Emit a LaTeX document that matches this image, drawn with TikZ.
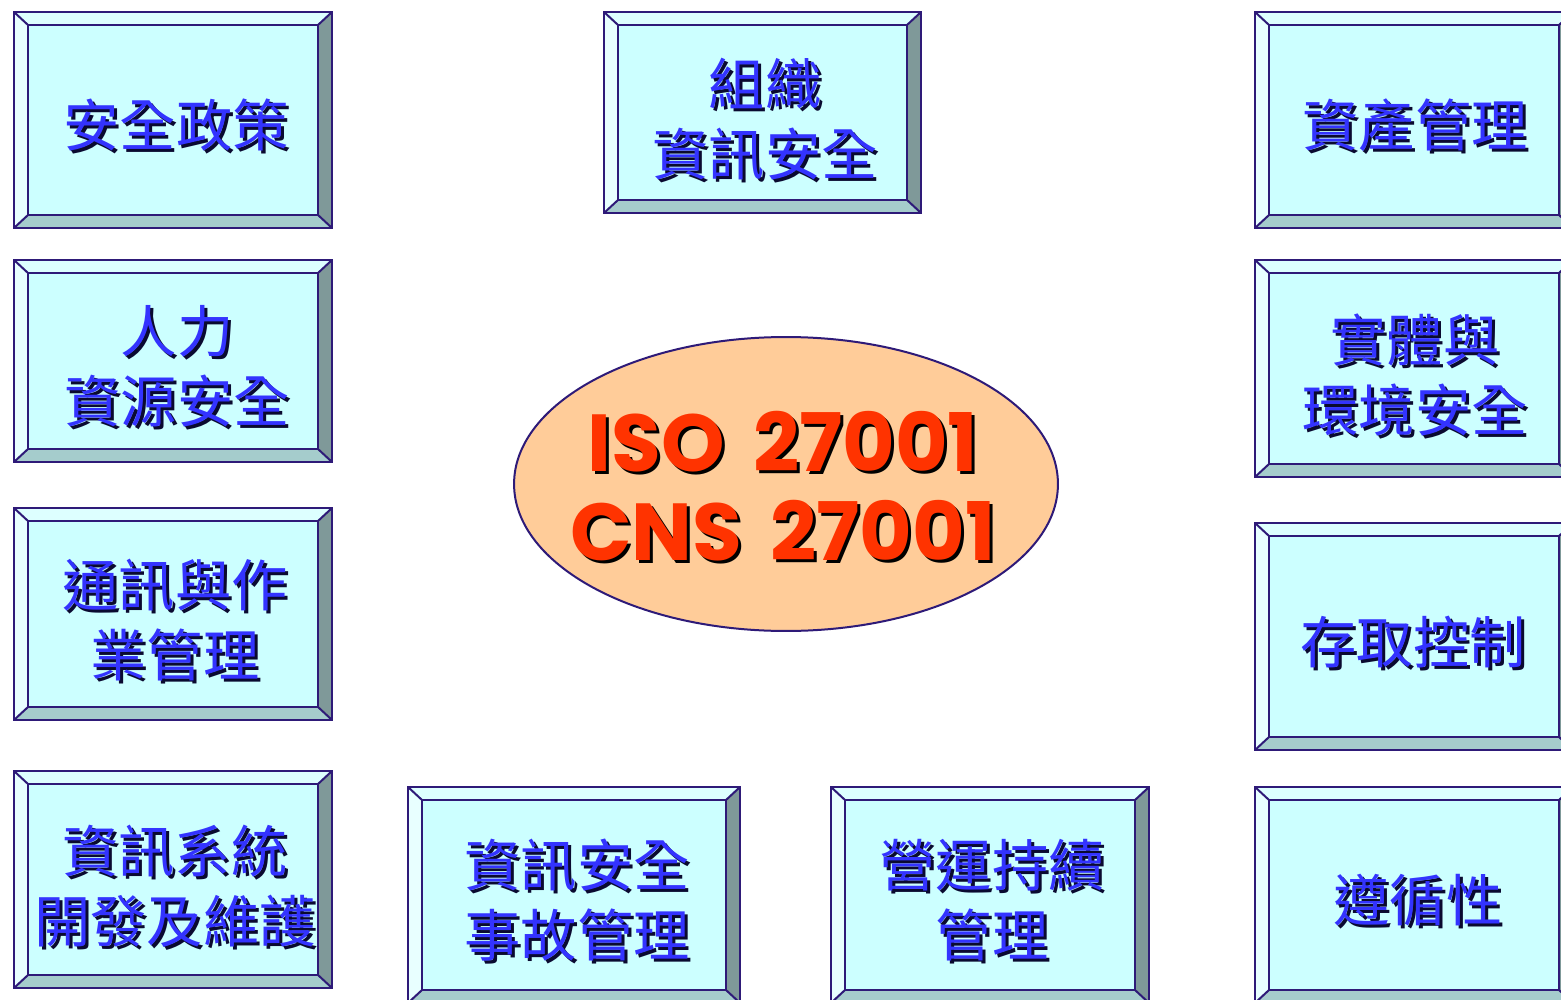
\documentclass[tikz,border=0pt]{standalone}
\usepackage{fontspec}
\newfontfamily\cjk{Noto Sans CJK TC}
\newfontfamily\isofont{Poppins}
\usetikzlibrary{shapes.geometric}
\definecolor{facec}{HTML}{CCFFFF}
\definecolor{topc}{HTML}{DDFFFF}
\definecolor{leftc}{HTML}{E8FFFF}
\definecolor{rightc}{HTML}{7F9999}
\definecolor{botc}{HTML}{A5CCCC}
\definecolor{edgec}{HTML}{2E1A78}
\definecolor{txtc}{HTML}{3333FF}
\definecolor{shadc}{HTML}{0A0A30}
\definecolor{isofill}{HTML}{FFCC99}
\definecolor{isored}{HTML}{FF3300}
\tikzset{
  bev/.style={draw=edgec, line width=0.04cm, line join=miter},
  lbl/.style={font=\cjk\fontsize{32}{40}\selectfont, text=txtc, align=center, inner sep=0pt},
  lblshadow/.style={lbl, text=shadc, xshift=0.06cm, yshift=-0.06cm},
  isotxt/.style={font=\isofont\bfseries\fontsize{46}{51}\selectfont, text=isored, align=center, inner sep=0pt},
  isoshadow/.style={isotxt, text=black, xshift=0.06cm, yshift=-0.06cm},
}
% #1 name, #2 x1, #3 y1, #4 x2, #5 y2
\newcommand\bevelbox[5]{%
  \fill[facec] (#2,#3) rectangle (#4,#5);
  \fill[topc] (#2,#3) -- (#4,#3) -- ({#4-14},{#3+13}) -- ({#2+14},{#3+13}) -- cycle;
  \fill[leftc] (#2,#3) -- ({#2+14},{#3+13}) -- ({#2+14},{#5-13}) -- (#2,#5) -- cycle;
  \fill[rightc] (#4,#3) -- ({#4-14},{#3+13}) -- ({#4-14},{#5-13}) -- (#4,#5) -- cycle;
  \fill[botc] (#2,#5) -- ({#2+14},{#5-13}) -- ({#4-14},{#5-13}) -- (#4,#5) -- cycle;
  \draw[bev] (#2,#3) rectangle (#4,#5);
  \draw[bev] ({#2+14},{#3+13}) rectangle ({#4-14},{#5-13});
  \draw[bev] (#2,#3) -- ({#2+14},{#3+13});
  \draw[bev] (#4,#3) -- ({#4-14},{#3+13});
  \draw[bev] (#2,#5) -- ({#2+14},{#5-13});
  \draw[bev] (#4,#5) -- ({#4-14},{#5-13});
  \coordinate (#1) at ({(#2+#4)/2},{(#3+#5)/2});
}
% #1 name, #2 x, #3 y, #4 text
\newcommand\boxlabel[4]{%
  \node[lblshadow] (#1-s) at (#2,#3) {#4};
  \node[lbl] (#1-t) at (#2,#3) {#4};
}
\newcommand\isogap{\hspace{0.35em}}
\begin{document}
\begin{tikzpicture}[x={(0.02cm,0)}, y={(0,-0.02cm)}]
\useasboundingbox (0,0) rectangle (1561,1000);
\clip (0,0) rectangle (1561,1000);
\fill[white] (0,0) rectangle (1561,1000);

\bevelbox{b1}{14}{12}{332}{228}
\bevelbox{b2}{604}{12}{921}{213}
\bevelbox{b3}{1255}{12}{1573}{228}
\bevelbox{b4}{14}{260}{332}{462}
\bevelbox{b5}{1255}{260}{1573}{477}
\bevelbox{b6}{14}{508}{332}{720}
\bevelbox{b7}{1255}{523}{1573}{750}
\bevelbox{b8}{14}{771}{332}{988}
\bevelbox{b9}{408}{787}{740}{1003}
\bevelbox{b10}{831}{787}{1149}{1003}
\bevelbox{b11}{1255}{787}{1573}{1003}

\boxlabel{l1}{176}{125}{安全政策}
\boxlabel{l2}{765}{119}{組織\\資訊安全}
\boxlabel{l3}{1415}{125}{資產管理}
\boxlabel{l4}{177}{366}{人力\\資源安全}
\boxlabel{l5}{1415}{375}{實體與\\環境安全}
\boxlabel{l6}{175}{620}{通訊與作\\業管理}
\boxlabel{l7}{1413}{642}{存取控制}
\boxlabel{l8}{175}{886}{資訊系統\\開發及維護}
\boxlabel{l9}{577}{900}{資訊安全\\事故管理}
\boxlabel{l10}{992}{900}{營運持續\\管理}
\boxlabel{l11}{1418}{900}{遵循性}

\node[ellipse, fill=isofill, draw=edgec, line width=0.04cm, minimum width=10.88cm, minimum height=5.88cm] (iso) at (786,484) {};
\node[isoshadow] (iso-s) at (783,486) {ISO\isogap 27001\\CNS\isogap 27001};
\node[isotxt] (iso-t) at (783,486) {ISO\isogap 27001\\CNS\isogap 27001};
\end{tikzpicture}
\end{document}
